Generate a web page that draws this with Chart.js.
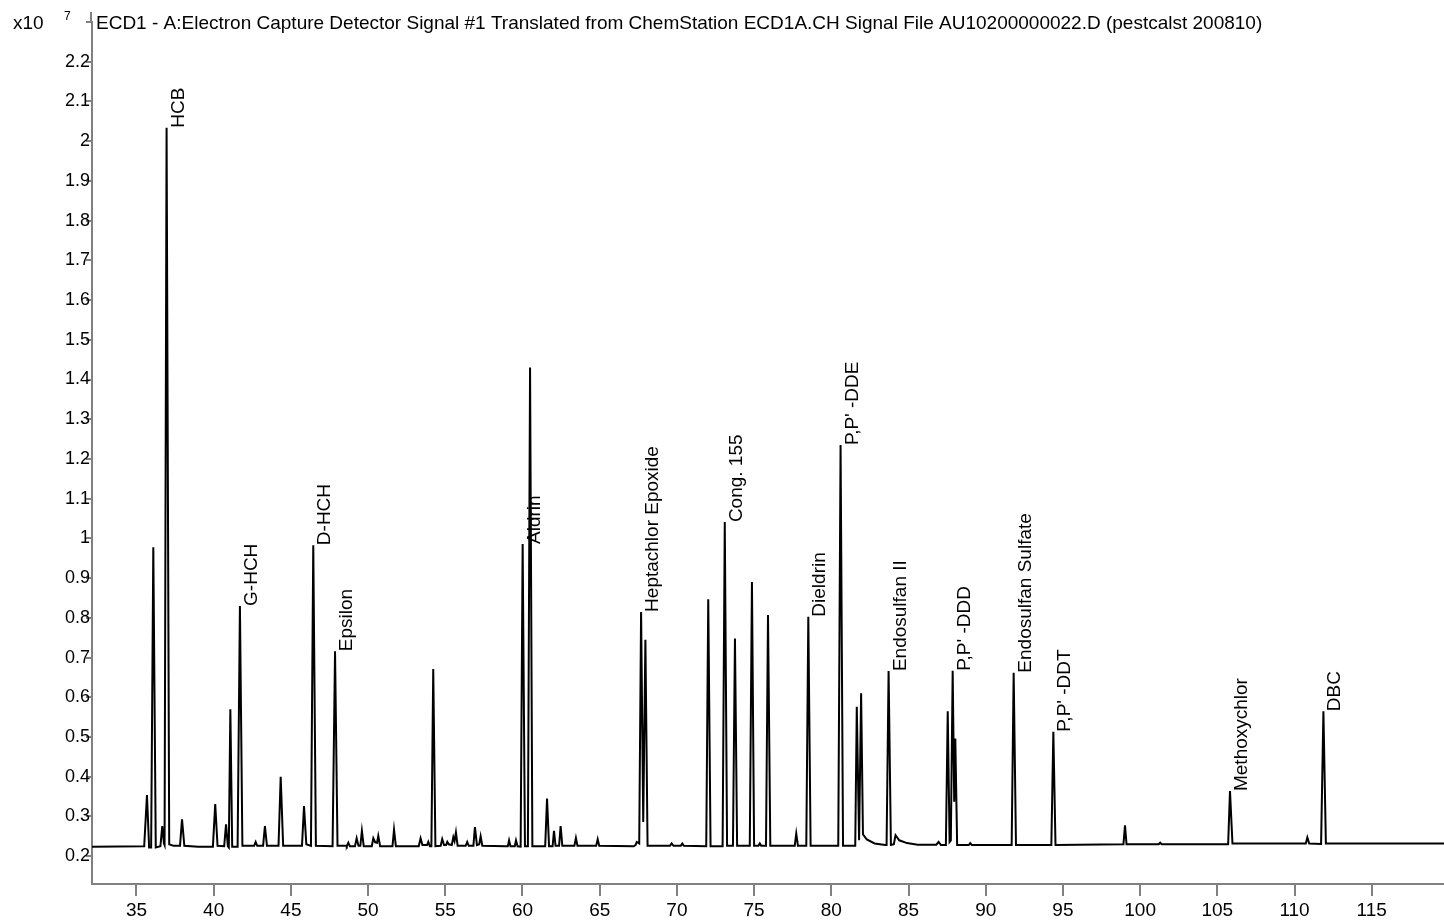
<!DOCTYPE html>
<html lang="en">
<head>
  <meta charset="UTF-8">
  <title>ECD1 chromatogram</title>
  <script src="https://cdn.jsdelivr.net/npm/chart.js"></script>
  <style>
    html, body { margin: 0; padding: 0; background: #fff; }
    canvas { display: block; }
  </style>
</head>
<body>
  <canvas id="chrom" width="1444" height="922"></canvas>

  <script>
    const titleText = 'ECD1 - A:Electron Capture Detector Signal #1 Translated from ChemStation ECD1A.CH Signal File AU10200000022.D (pestcalst 200810)';

    // detector trace: [retention time (min), response (x10^7)]
    const trace = [
      [32.1, 0.224], [35.5, 0.225],
      [35.55, 0.225], [35.68, 0.354], [35.82, 0.222],
      [35.95, 0.222], [36.09, 0.978], [36.25, 0.222],
      [36.55, 0.225], [36.67, 0.276], [36.78, 0.232],
      [36.82, 0.228], [36.95, 2.034], [37.12, 0.23], [37.4, 0.226],
      [37.82, 0.226], [37.95, 0.293], [38.1, 0.226], [39.0, 0.224],
      [39.95, 0.224], [40.1, 0.331], [40.25, 0.226],
      [40.68, 0.225], [40.8, 0.28], [40.92, 0.225],
      [40.98, 0.222], [41.08, 0.57], [41.2, 0.224],
      [41.55, 0.224], [41.7, 0.83], [41.86, 0.226], [42.5, 0.226],
      [42.62, 0.226], [42.72, 0.236], [42.82, 0.226],
      [43.2, 0.226], [43.32, 0.276], [43.45, 0.226],
      [44.2, 0.226], [44.34, 0.40], [44.5, 0.226],
      [45.72, 0.226], [45.85, 0.326], [46.0, 0.23],
      [46.3, 0.226], [46.45, 0.983], [46.62, 0.226],
      [47.7, 0.225], [47.86, 0.716], [48.02, 0.226], [48.6, 0.226],
      [48.62, 0.225], [48.72, 0.234], [48.82, 0.225],
      [49.15, 0.225], [49.26, 0.245], [49.38, 0.226],
      [49.5, 0.226], [49.6, 0.264], [49.72, 0.225],
      [50.24, 0.225], [50.34, 0.245], [50.46, 0.235],
      [50.58, 0.234], [50.66, 0.251], [50.78, 0.225],
      [51.58, 0.225], [51.68, 0.267], [51.8, 0.225], [52.8, 0.225],
      [53.28, 0.225], [53.4, 0.245], [53.52, 0.228],
      [53.82, 0.228], [53.9, 0.236], [54.0, 0.225],
      [54.1, 0.225], [54.22, 0.671], [54.36, 0.225],
      [54.7, 0.226], [54.8, 0.243], [54.92, 0.228],
      [55.05, 0.228], [55.13, 0.236], [55.22, 0.23],
      [55.42, 0.228], [55.52, 0.248], [55.6, 0.238], [55.69, 0.26], [55.8, 0.226],
      [56.32, 0.226], [56.42, 0.236], [56.52, 0.226],
      [56.82, 0.226], [56.92, 0.273], [57.05, 0.228],
      [57.2, 0.23], [57.29, 0.25], [57.4, 0.226], [58.9, 0.225],
      [59.05, 0.225], [59.13, 0.24], [59.22, 0.225],
      [59.5, 0.225], [59.58, 0.24], [59.68, 0.225],
      [59.88, 0.224], [60.01, 0.986], [60.16, 0.225],
      [60.35, 0.225], [60.49, 1.43], [60.64, 0.225],
      [61.47, 0.225], [61.59, 0.345], [61.72, 0.225],
      [61.95, 0.225], [62.04, 0.264], [62.14, 0.226],
      [62.37, 0.226], [62.47, 0.276], [62.58, 0.226],
      [63.36, 0.226], [63.46, 0.246], [63.56, 0.226],
      [64.77, 0.226], [64.87, 0.243], [64.97, 0.226], [67.2, 0.225],
      [67.32, 0.228], [67.4, 0.236], [67.56, 0.232],
      [67.68, 0.815], [67.82, 0.286], [67.96, 0.745], [68.1, 0.226],
      [69.55, 0.226], [69.66, 0.232], [69.78, 0.226],
      [70.25, 0.226], [70.35, 0.232], [70.45, 0.226],
      [71.9, 0.225], [72.03, 0.847], [72.18, 0.225],
      [72.96, 0.225], [73.1, 1.041], [73.25, 0.226],
      [73.63, 0.226], [73.76, 0.748], [73.9, 0.226],
      [74.72, 0.226], [74.86, 0.89], [75.0, 0.226],
      [75.28, 0.226], [75.37, 0.232], [75.46, 0.226],
      [75.77, 0.226], [75.9, 0.807], [76.05, 0.226],
      [77.63, 0.226], [77.73, 0.257], [77.84, 0.226],
      [78.38, 0.226], [78.51, 0.803], [78.66, 0.226],
      [80.45, 0.226], [80.6, 1.235], [80.76, 0.226], [81.4, 0.226],
      [81.55, 0.226], [81.65, 0.576], [81.8, 0.24], [81.93, 0.61],
      [82.05, 0.255], [82.3, 0.242], [82.8, 0.232], [83.5, 0.228],
      [83.58, 0.228], [83.71, 0.666], [83.86, 0.228],
      [84.05, 0.23], [84.16, 0.253], [84.4, 0.24], [84.9, 0.233], [85.6, 0.229],
      [86.8, 0.229], [86.95, 0.236], [87.1, 0.228],
      [87.42, 0.228], [87.54, 0.565], [87.66, 0.236],
      [87.74, 0.24], [87.86, 0.667], [87.96, 0.337], [88.03, 0.496], [88.15, 0.228],
      [88.9, 0.228], [89.0, 0.233], [89.1, 0.228],
      [91.68, 0.228], [91.81, 0.662], [91.96, 0.228],
      [94.25, 0.228], [94.38, 0.513], [94.52, 0.228],
      [98.92, 0.23], [99.02, 0.278], [99.12, 0.23],
      [101.2, 0.23], [101.3, 0.234], [101.4, 0.23],
      [105.7, 0.23], [105.82, 0.364], [105.98, 0.232],
      [110.73, 0.232], [110.83, 0.247], [110.95, 0.232],
      [111.72, 0.231], [111.87, 0.565], [112.03, 0.232],
      [119.7, 0.232]
    ];

    // named peaks (label sits on the apex)
    const peakNames = ['HCB', 'G-HCH', 'D-HCH', 'Epsilon', 'Aldrin', 'Heptachlor Epoxide', 'Cong. 155',
      'Dieldrin', "P,P' -DDE", 'Endosulfan II', "P,P' -DDD", 'Endosulfan Sulfate', "P,P' -DDT",
      'Methoxychlor', 'DBC'];
    const peakTimes = [36.95, 41.7, 46.45, 47.86, 60.01, 67.68, 73.1, 78.51, 80.6, 83.71, 87.86, 91.81, 94.38, 105.82, 111.87];
    const peakHeights = [2.034, 0.83, 0.983, 0.716, 0.986, 0.815, 1.041, 0.803, 1.235, 0.666, 0.667, 0.662, 0.513, 0.364, 0.565];

    const FONT = '"Liberation Sans", Arial, sans-serif';
    const AXIS_GREY = '#808080';

    // title, exponent and peak names
    const annotate = {
      id: 'annotate',
      afterDraw(chart) {
        const c = chart.ctx;
        const xs = chart.scales.x, ys = chart.scales.y;
        c.save();
        c.fillStyle = '#000';
        c.textBaseline = 'alphabetic';
        c.textAlign = 'left';
        c.font = '19px ' + FONT;
        c.fillText(titleText, 96, 29);
        c.fillText('x10', 13, 29);
        c.font = '12px ' + FONT;
        c.fillText('7', 64, 20);

        // y axis runs a little above the top tick
        c.strokeStyle = AXIS_GREY;
        c.lineWidth = 2;
        c.beginPath();
        c.moveTo(chart.chartArea.left - 1, chart.chartArea.top);
        c.lineTo(chart.chartArea.left - 1, 12);
        c.stroke();

        c.font = '19px ' + FONT;
        peakNames.forEach((name, i) => {
          const px = xs.getPixelForValue(peakTimes[i]);
          const py = ys.getPixelForValue(peakHeights[i]);
          c.save();
          c.translate(px + 17, py);
          c.rotate(-Math.PI / 2);
          c.fillText(name, 0, 0);
          c.restore();
        });
        c.restore();
      }
    };

    new Chart(document.getElementById('chrom'), {
      type: 'line',
      data: {
        datasets: [{
          data: trace.map(p => ({ x: p[0], y: p[1] })),
          borderColor: '#000',
          borderWidth: 2,
          pointRadius: 0,
          tension: 0,
          fill: false
        }]
      },
      options: {
        responsive: false,
        animation: false,
        layout: { padding: { top: 22, right: 0, bottom: 0, left: 0 } },
        plugins: { legend: { display: false }, tooltip: { enabled: false } },
        scales: {
          x: {
            type: 'linear',
            min: 32.12,
            max: 119.68,
            border: { color: AXIS_GREY, width: 2 },
            grid: { drawOnChartArea: false, drawTicks: true, tickLength: 12, color: AXIS_GREY, lineWidth: 2 },
            ticks: { stepSize: 5, includeBounds: false, autoSkip: false, maxRotation: 0, color: '#000', padding: 3,
                     font: { family: FONT, size: 19 } },
            afterFit(s) { s.height = 38; }
          },
          y: {
            min: 0.13,
            max: 2.3,
            border: { color: AXIS_GREY, width: 2 },
            grid: { drawOnChartArea: false, drawTicks: true, tickLength: 6, color: AXIS_GREY, lineWidth: 2 },
            ticks: {
              stepSize: 0.1, includeBounds: false, autoSkip: false, color: '#000', padding: -4,
              font: { family: FONT, size: 18 },
              callback: v => Math.abs(v - 2.3) < 1e-6 ? '' : String(Math.round(v * 10) / 10)
            },
            afterFit(s) { s.width = 92; }
          }
        }
      },
      plugins: [annotate]
    });
  </script>
</body>
</html>
